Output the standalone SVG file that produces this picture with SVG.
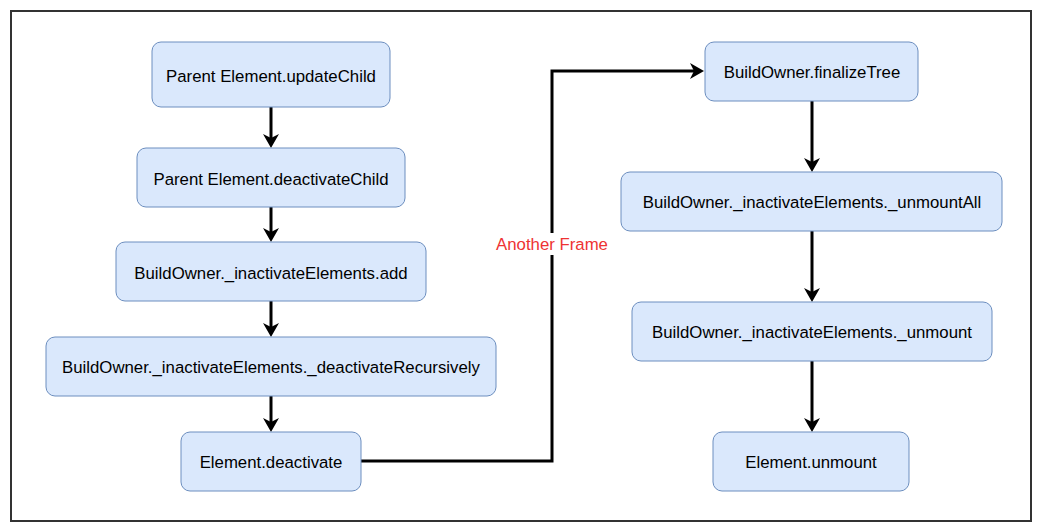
<svg xmlns="http://www.w3.org/2000/svg" width="1042" height="532" viewBox="0 0 1042 532">
  <style>
    .node rect { fill: #dae8fc; stroke: #6c8ebf; stroke-width: 1; }
    .node text { font-family: "Liberation Sans", Arial, sans-serif; font-size: 16.8px; fill: #000; text-anchor: middle; }
    .edge { fill: none; stroke: #000; stroke-width: 3; }
    .label { font-family: "Liberation Sans", Arial, sans-serif; font-size: 16.8px; fill: #ee3333; text-anchor: middle; }
  </style>
  <defs>
    <marker id="arrow" viewBox="0 0 14 16" markerWidth="14" markerHeight="16" refX="4" refY="8" orient="auto" markerUnits="userSpaceOnUse">
      <path d="M0,0 L14,8 L0,16 L4,8 Z" fill="#000"/>
    </marker>
  </defs>
  <rect x="0" y="0" width="1042" height="532" fill="#fff"/>
  <rect id="frame" x="11" y="11" width="1020" height="510" fill="#fff" stroke="#333" stroke-width="2"/>

  <g id="connectors">
    <path class="edge" d="M271,107 V138" marker-end="url(#arrow)"/>
    <path class="edge" d="M271,207 V232" marker-end="url(#arrow)"/>
    <path class="edge" d="M271,301 V327" marker-end="url(#arrow)"/>
    <path class="edge" d="M271,396 V422" marker-end="url(#arrow)"/>
    <path class="edge" d="M361,461 H552 V71 H694" marker-end="url(#arrow)"/>
    <path class="edge" d="M812,101 V162" marker-end="url(#arrow)"/>
    <path class="edge" d="M812,231 V292" marker-end="url(#arrow)"/>
    <path class="edge" d="M812,361 V422" marker-end="url(#arrow)"/>
    <g id="edge-label">
      <rect x="493" y="233" width="118" height="22" fill="#fff"/>
      <text class="label" x="552" y="250">Another Frame</text>
    </g>
  </g>

  <g id="n1" class="node">
    <rect x="152" y="42" width="238" height="65" rx="9"/>
    <text x="271" y="82">Parent Element.updateChild</text>
  </g>
  <g id="n2" class="node">
    <rect x="137" y="148" width="268" height="59" rx="9"/>
    <text x="271" y="185">Parent Element.deactivateChild</text>
  </g>
  <g id="n3" class="node">
    <rect x="116" y="242" width="310" height="59" rx="9"/>
    <text x="271" y="279">BuildOwner._inactivateElements.add</text>
  </g>
  <g id="n4" class="node">
    <rect x="46" y="337" width="450" height="59" rx="9"/>
    <text x="271" y="373">BuildOwner._inactivateElements._deactivateRecursively</text>
  </g>
  <g id="n5" class="node">
    <rect x="181" y="432" width="180" height="59" rx="9"/>
    <text x="271" y="468">Element.deactivate</text>
  </g>
  <g id="r1" class="node">
    <rect x="705" y="42" width="213" height="59" rx="9"/>
    <text x="812" y="78">BuildOwner.finalizeTree</text>
  </g>
  <g id="r2" class="node">
    <rect x="621" y="172" width="381" height="59" rx="9"/>
    <text x="812" y="208">BuildOwner._inactivateElements._unmountAll</text>
  </g>
  <g id="r3" class="node">
    <rect x="632" y="302" width="360" height="59" rx="9"/>
    <text x="812" y="338">BuildOwner._inactivateElements._unmount</text>
  </g>
  <g id="r4" class="node">
    <rect x="713" y="432" width="196" height="59" rx="9"/>
    <text x="811" y="468">Element.unmount</text>
  </g>
</svg>
